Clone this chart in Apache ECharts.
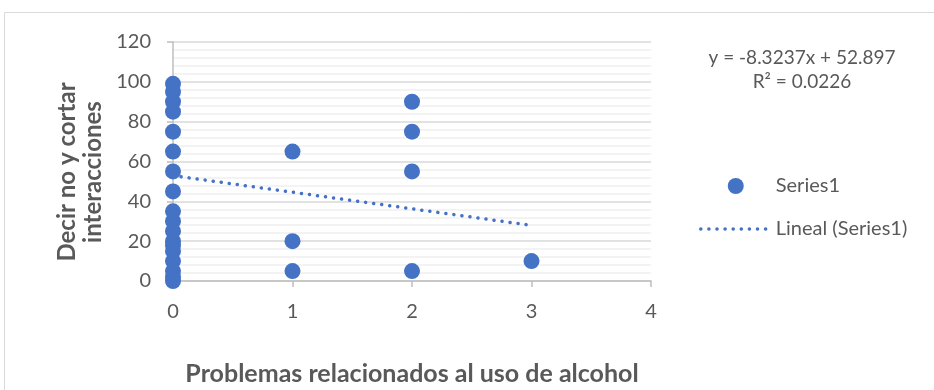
<!DOCTYPE html>
<html>
<head>
<meta charset="utf-8">
<script src="https://cdn.jsdelivr.net/npm/echarts@6/dist/echarts.min.js"></script>
<style>html,body{margin:0;padding:0;background:#fff}#c{width:934px;height:390px}</style>
</head>
<body>
<div id="c"></div>
<script>
// Data
var xValues = [0,0,0,0,0,0,0,0,0,0,0,0,0,0,0,0,0,0, 1,1,1, 2,2,2,2, 3];
var yValues = [99,95,90,85,75,65,55,45,35,30,25,20,18,15,10,5,2,0, 65,20,5, 90,75,55,5, 10];
var trendSlope = -8.3237;
var trendIntercept = 52.897;
var rSquared = 0.0226;
var xTicks = [0,1,2,3,4];
var yTicks = [0,20,40,60,80,100,120];
var seriesName = 'Series1';
var trendName = 'Lineal (Series1)';
var xTitle = 'Problemas relacionados al uso de alcohol';
var yTitle = 'Decir no y cortar\ninteracciones';

var FONT = 'Lato';
var TXT = '#595959';
var BLUE = '#4472C4';

var points = xValues.map(function(x,i){ return [x, yValues[i]]; });
var xMinData = Math.min.apply(null, xValues), xMaxData = Math.max.apply(null, xValues);
var trendData = [[xMinData, trendSlope*xMinData+trendIntercept],[xMaxData, trendSlope*xMaxData+trendIntercept]];

var chart = echarts.init(document.getElementById('c'), null, {renderer:'canvas'});
chart.setOption({
  animation:false,
  backgroundColor:'#fff',
  grid:{left:173, right:283, top:42, bottom:109, containLabel:false},
  xAxis:{
    type:'value', min:xTicks[0], max:xTicks[xTicks.length-1], interval:1,
    axisLine:{show:true, onZero:false, lineStyle:{color:'#bfbfbf', width:1.5}},
    axisTick:{show:true, length:6, lineStyle:{color:'#bfbfbf', width:1.5}},
    axisLabel:{color:TXT, fontFamily:FONT, fontSize:20, margin:21},
    splitLine:{show:false}
  },
  yAxis:{
    type:'value', min:yTicks[0], max:yTicks[yTicks.length-1], interval:20,
    axisLine:{show:true, onZero:false, lineStyle:{color:'#bfbfbf', width:1.5}},
    axisTick:{show:true, length:6, lineStyle:{color:'#bfbfbf', width:1.5}},
    axisLabel:{color:TXT, fontFamily:FONT, fontSize:20, margin:22},
    splitLine:{show:true, lineStyle:{color:'#d9d9d9', width:1.5}},
    minorTick:{show:false, splitNumber:5},
    minorSplitLine:{show:true, lineStyle:{color:'#efefef', width:1.5}}
  },
  legend:{
    orient:'vertical', left:694, top:171, itemWidth:70, itemHeight:16, itemGap:23,
    textStyle:{color:TXT, fontFamily:FONT, fontSize:20},
    data:[
      {name:seriesName, icon:'circle'},
      {name:trendName, itemStyle:{opacity:0}, lineStyle:{color:BLUE, width:3.5, type:[0.1,8], cap:'round'}}
    ]
  },
  series:[
    {name:seriesName, type:'scatter', data:points, symbol:'circle', symbolSize:16,
     symbolKeepAspect:true, itemStyle:{color:BLUE, opacity:1}, z:3},
    {name:trendName, type:'line', data:trendData, showSymbol:false, symbol:'none',
     lineStyle:{color:BLUE, width:3.5, type:[0.1,8], cap:'round'}, itemStyle:{color:BLUE}, z:2}
  ],
  graphic:[
    {type:'rect', shape:{x:4.5, y:12.5, width:940, height:390}, style:{fill:'none', stroke:'#d9d9d9', lineWidth:1}, silent:true, z:-1},
    {type:'text', x:802, y:58, style:{text:'y = ' + trendSlope + 'x + ' + trendIntercept, fill:TXT, font:'19px '+FONT, align:'center', verticalAlign:'middle'}},
    {type:'text', x:802, y:82, style:{text:'R² = ' + rSquared, fill:TXT, font:'19px '+FONT, align:'center', verticalAlign:'middle'}},
    {type:'text', x:412, y:374, style:{text:xTitle, fill:TXT, font:'bold 25px '+FONT, align:'center', verticalAlign:'middle'}},
    {type:'text', x:80, y:172, rotation:Math.PI/2, style:{text:yTitle, fill:TXT, font:'bold 24px '+FONT, align:'center', verticalAlign:'middle', lineHeight:26}}
  ]
});
</script>
</body>
</html>
